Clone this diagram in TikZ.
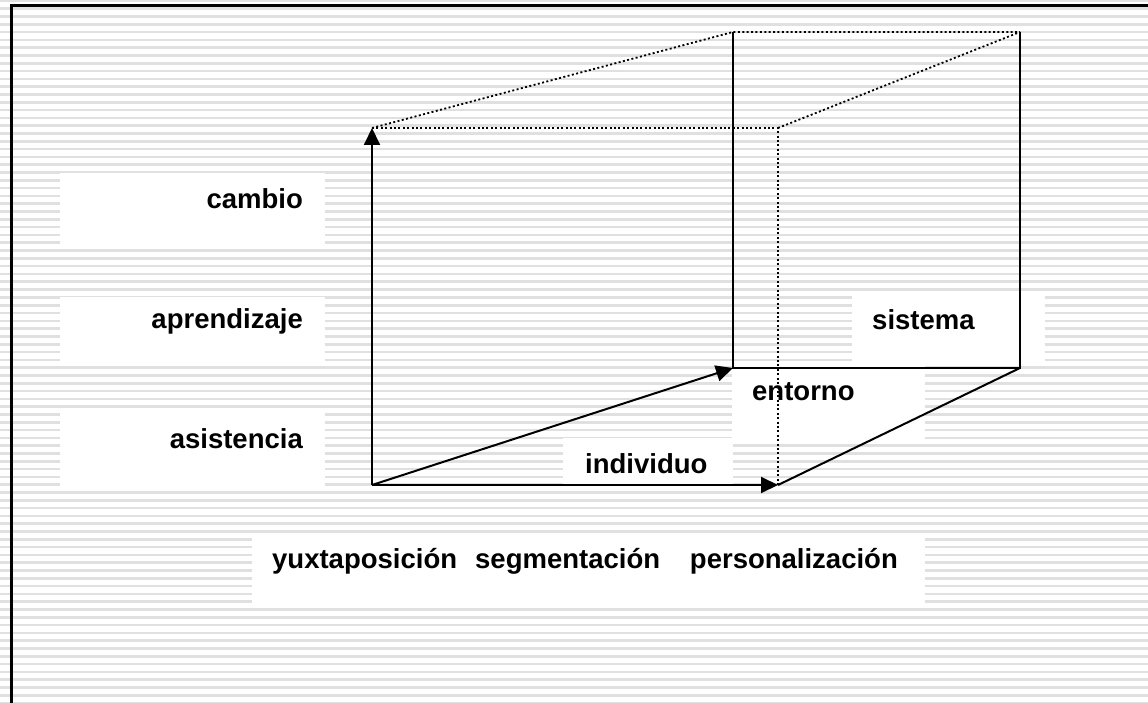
\documentclass[tikz,border=0pt]{standalone}
\usepackage{fontspec}
\setmainfont{Liberation Sans}
\usetikzlibrary{arrows.meta}

\tikzset{
  stripe/.style={black!12, line width=2.6pt},
  blank/.style={fill=white},
  word/.style={font=\bfseries\fontsize{27.5}{33}\selectfont, inner sep=0pt},
  axis/.style={line width=2pt, -{Triangle[length=17pt,width=16pt]}},
  edge/.style={line width=2pt},
  hidden/.style={line width=1.8pt, dash pattern=on 2pt off 2.4pt},
}

\begin{document}
\begin{tikzpicture}[x=1pt, y=-1pt]
\useasboundingbox (0,0) rectangle (1148,703);
\clip (0,0) rectangle (1148,703);
\foreach \k in {0,...,90}
  \draw[stripe] (0, {1+7.8*\k}) -- (1148, {1+7.8*\k});
\draw[line width=3pt] (11,720) -- (11,6) -- (1160,6);

\fill[blank] (60,173) rectangle (325,248);
\fill[blank] (60,297) rectangle (325,365);
\fill[blank] (60,413) rectangle (325,491);
\fill[blank] (852,295) rectangle (1045,365);
\fill[blank] (732,365) rectangle (925,440);
\fill[blank] (563,438) rectangle (733,488);
\fill[blank] (252,535) rectangle (925,608);

\node[word, anchor=base east] (cambio) at (303,209) {cambio};
\node[word, anchor=base east] (aprendizaje) at (303,328) {aprendizaje};
\node[word, anchor=base east] (asistencia) at (303,448) {asistencia};
\node[word, anchor=base west] (sistema) at (872,329) {sistema};
\node[word, anchor=base west] (entorno) at (752,400) {entorno};
\node[word, anchor=base west] (individuo) at (585,473) {individuo};
\node[word, anchor=base west] (yuxtaposicion) at (272,568) {yuxtaposición};
\node[word, anchor=base west] (segmentacion) at (475,568) {segmentación};
\node[word, anchor=base east] (personalizacion) at (898,568) {personalización};

\coordinate (o) at (372,485);
\coordinate (up) at (372,128);
\coordinate (right) at (778,485);
\coordinate (depth) at (733,368);
\coordinate (topfront) at (778,128);
\coordinate (backleft) at (733,32);
\coordinate (backright) at (1020,32);
\coordinate (far) at (1020,368);

\draw[hidden] (up) -- (topfront) -- (right);
\draw[hidden] (up) -- (backleft) -- (backright);
\draw[hidden] (topfront) -- (backright);
\draw[edge, line join=miter] (backleft) -- (depth) -- (far) -- (backright);
\draw[edge] (far) -- (right);
\draw[axis] (o) -- (up);
\draw[axis] (o) -- (right);
\draw[axis] (o) -- (depth);
\end{tikzpicture}
\end{document}
